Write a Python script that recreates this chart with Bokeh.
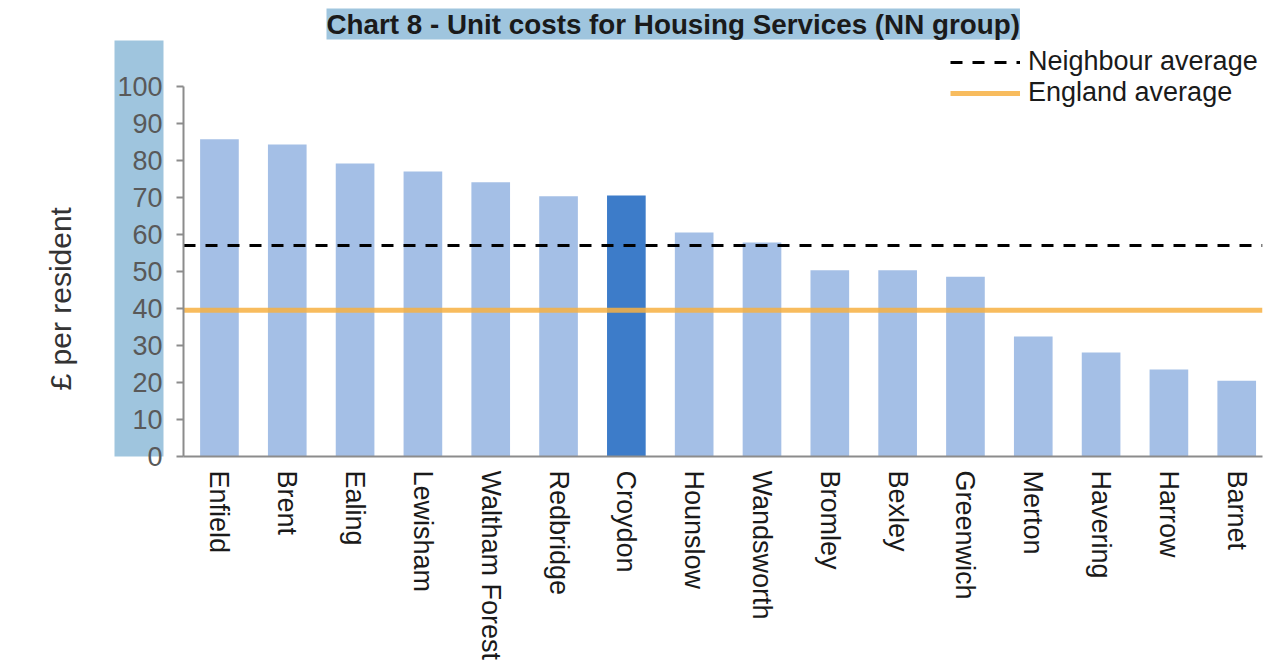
from bokeh.plotting import figure
from bokeh.models import (Range1d, FixedTicker, Legend, LegendItem, Title, ColumnDataSource,
                          LinearAxis, CustomLabelingPolicy)
from bokeh.embed import file_html
from bokeh.resources import INLINE

boroughs = ["Enfield", "Brent", "Ealing", "Lewisham", "Waltham Forest", "Redbridge", "Croydon",
            "Hounslow", "Wandsworth", "Bromley", "Bexley", "Greenwich", "Merton", "Havering",
            "Harrow", "Barnet"]
unit_costs = [85.7, 84.3, 79.2, 77.0, 74.1, 70.3, 70.5, 60.5, 57.8, 50.3, 50.3, 48.6, 32.4, 28.1, 23.5, 20.5]
highlight = "Croydon"
neighbour_avg = 57.0
england_avg = 39.5
y_ticks = [0, 10, 20, 30, 40, 50, 60, 70, 80, 90, 100]

LIGHT = "#a4bfe6"
DARK = "#3d7cc9"
HL = "#9fc5de"
FONT = "Liberation Sans"

idx = list(range(len(boroughs)))
colors = [DARK if b == highlight else LIGHT for b in boroughs]
src = ColumnDataSource(dict(x=idx, top=unit_costs, color=colors))

x_start, x_end = -0.53, 15.38
y_top = 112.4  # extra headroom above 100 for the legend

p = figure(width=1263, height=667, output_backend="svg", toolbar_location=None,
           x_range=Range1d(x_start, x_end), y_range=Range1d(0, y_top),
           min_border_left=183, min_border_right=1, min_border_top=40, min_border_bottom=211)
p.outline_line_color = None
p.grid.grid_line_color = None
p.background_fill_color = "white"
p.border_fill_color = "white"

p.vbar(x="x", top="top", width=0.57, fill_color="color", line_color=None, source=src)

r_nb = p.line(x=[x_start, x_end], y=[neighbour_avg, neighbour_avg], line_color="black",
              line_width=3, line_dash="12 10")
r_en = p.line(x=[x_start, x_end], y=[england_avg, england_avg], line_color="#f7b042",
              line_width=5, line_alpha=0.85)

legend = Legend(items=[LegendItem(label="Neighbour average", renderers=[r_nb]),
                       LegendItem(label="England average", renderers=[r_en])],
                location=(767, 348), background_fill_alpha=0, border_line_color=None,
                label_text_font=FONT, label_text_font_size="27px", label_text_color="#1a1a1a",
                glyph_width=70, glyph_height=30, spacing=0, padding=0, margin=0,
                label_standoff=8, label_height=30)
p.add_layout(legend, "center")

no_labels = CustomLabelingPolicy(code="""
    for (const i of [...indices]) indices.unset(i)
    return indices
""")

# axis A: line + ticks only
ya = p.yaxis[0]
ya.ticker = FixedTicker(ticks=y_ticks)
ya.bounds = (0, 100)
ya.axis_line_color = "#8c8c8c"
ya.axis_line_width = 2
ya.major_tick_line_color = "#8c8c8c"
ya.major_tick_line_width = 2
ya.major_tick_in = 0
ya.major_tick_out = 7
ya.minor_tick_line_color = None
ya.major_label_text_font_size = "5px"
ya.major_label_standoff = 2
ya.major_label_policy = no_labels

# axis B: tick labels on highlighted background
yb = LinearAxis(ticker=FixedTicker(ticks=y_ticks), bounds=(0, 100))
yb.axis_line_color = None
yb.major_tick_line_color = None
yb.minor_tick_line_color = None
yb.major_label_text_font = FONT
yb.major_label_text_font_size = "27px"
yb.major_label_text_color = "#595959"
yb.major_label_standoff = -5
yb.background_fill_color = HL
p.add_layout(yb, "left")

# y-axis title as a side title
ytitle = Title(text="£ per resident", align="left", offset=66, text_font=FONT,
               text_font_size="30px", text_font_style="normal", text_color="#333333",
               standoff=76)
p.add_layout(ytitle, "left")

p.xaxis.ticker = FixedTicker(ticks=idx)
p.xaxis.major_label_overrides = {i: b for i, b in enumerate(boroughs)}
p.xaxis.major_label_orientation = "vertical"
p.xaxis.axis_line_color = "#8c8c8c"
p.xaxis.axis_line_width = 2
p.xaxis.major_tick_line_color = None
p.xaxis.minor_tick_line_color = None
p.xaxis.major_label_text_font = FONT
p.xaxis.major_label_text_font_size = "27px"
p.xaxis.major_label_text_color = "#1a1a1a"
p.xaxis.major_label_standoff = 8

title = Title(text="Chart 8 - Unit costs for Housing Services (NN group)", align="left",
              offset=143, text_font=FONT, text_font_size="27.8px", text_font_style="bold",
              text_color="#1a1a1a", background_fill_color=HL, standoff=2)
p.add_layout(title, "above")

open("out.html", "w").write(file_html(p, INLINE))
